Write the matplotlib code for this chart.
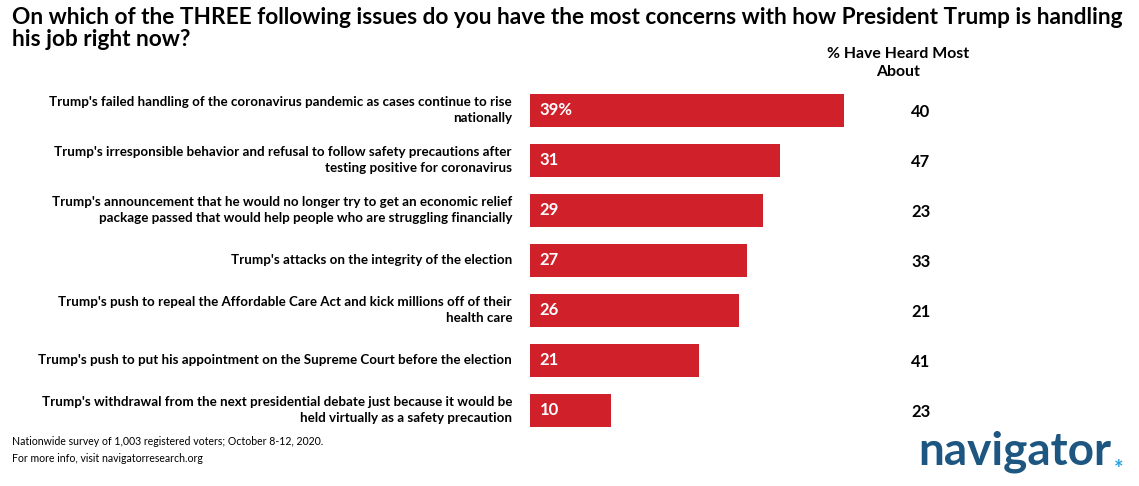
import matplotlib.pyplot as plt
from matplotlib import transforms

plt.rcParams['font.family'] = ['Lato', 'DejaVu Sans']

issues = [
    "Trump's failed handling of the coronavirus pandemic as cases continue to rise\nnationally",
    "Trump's irresponsible behavior and refusal to follow safety precautions after\ntesting positive for coronavirus",
    "Trump's announcement that he would no longer try to get an economic relief\npackage passed that would help people who are struggling financially",
    "Trump's attacks on the integrity of the election",
    "Trump's push to repeal the Affordable Care Act and kick millions off of their\nhealth care",
    "Trump's push to put his appointment on the Supreme Court before the election",
    "Trump's withdrawal from the next presidential debate just because it would be\nheld virtually as a safety precaution",
]
concern = [39, 31, 29, 27, 26, 21, 10]
heard_most = [40, 47, 23, 33, 21, 41, 23]

W, H = 1139, 486
fig = plt.figure(figsize=(W / 100, H / 100), dpi=100)

# axes placed in pixel terms: bars start at x=530, 8.05 px per point
px_per = 8.05
xmax = 50
ax = fig.add_axes([530 / W, (H - 435) / H, xmax * px_per / W, 350 / H])
ypos = list(range(len(concern)))
ax.barh(ypos, concern, height=0.66, color='#d0202a', edgecolor='none')
ax.set_xlim(0, xmax)
ax.set_ylim(len(concern) - 0.5, -0.5)
ax.axis('off')

for i, v in enumerate(concern):
    lab = "%d%%" % v if i == 0 else str(v)
    ax.text(1.2, i, lab, color='white', fontsize=12, fontweight='bold',
            va='center', ha='left')

trans = transforms.blended_transform_factory(fig.transFigure, ax.transData)
for i, (txt, h) in enumerate(zip(issues, heard_most)):
    ax.text(512 / W, i, txt, transform=trans, ha='right', va='center',
            fontsize=9.6, fontweight='bold', linespacing=1.4)
    ax.text(921 / W, i + 0.04, str(h), transform=trans, ha='center', va='center',
            fontsize=12, fontweight='bold')

# title split in two lines so the second one doesn't run into the column header
fig.text(12 / W, 1 - 18 / H,
         "On which of the THREE following issues do you have the most concerns with how President Trump is handling",
         ha='left', va='center', fontsize=16.3, fontweight='bold')
fig.text(12 / W, 1 - 40 / H, "his job right now?",
         ha='left', va='center', fontsize=16.3, fontweight='bold')
fig.text(898 / W, 1 - 63 / H, "% Have Heard Most\nAbout", ha='center', va='center',
         fontsize=11.4, fontweight='bold', linespacing=1.4)

fig.text(12 / W, 1 - 450 / H, "Nationwide survey of 1,003 registered voters; October 8-12, 2020.\nFor more info, visit navigatorresearch.org",
         ha='left', va='center', fontsize=7.6, linespacing=1.6)

fig.text(918 / W, 1 - 452 / H, "navigator", ha='left', va='center', fontsize=33,
         fontweight='bold', color='#1d5680')
fig.text(1114 / W, 1 - 469 / H, "*", ha='left', va='center', fontsize=16,
         fontweight='bold', color='#2aa3dc')

fig.savefig('out.png', dpi=100)
